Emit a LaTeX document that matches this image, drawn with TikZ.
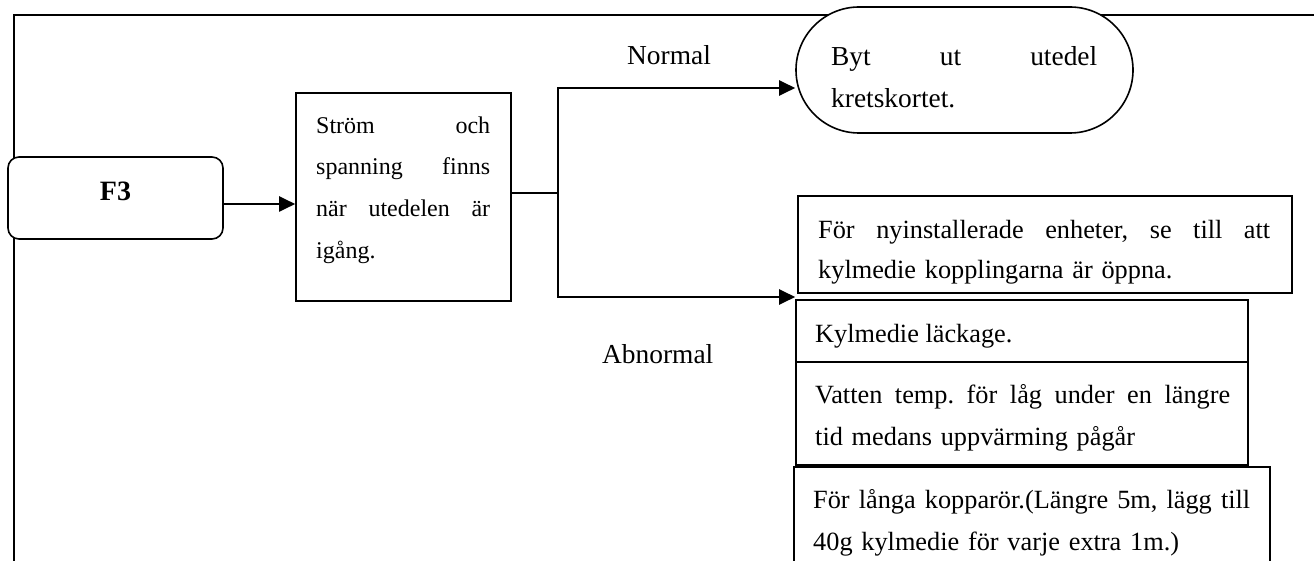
\documentclass[tikz,border=0pt]{standalone}
\usepackage{fontspec}
\setmainfont{Liberation Serif}
\usetikzlibrary{arrows.meta,shapes.misc}

% text sizes used in the chart
\newcommand\fbody{\fontsize{26.3pt}{42pt}\selectfont}
\newcommand\fboxa{\fontsize{26.3pt}{40pt}\selectfont}
\newcommand\fsmall{\fontsize{24pt}{41.7pt}\selectfont}
\newcommand\fbig{\fontsize{27.4pt}{42pt}\selectfont}
% fixed height for the first line of every text block
\newcommand\mytopstrut{\rule{0pt}{22pt}}
% a fully justified line of given width; words are separated by \hfill
\newcommand\jline[2]{\leavevmode\hbox to #1{#2}}

\begin{document}
\begin{tikzpicture}[x=1pt,y=-1pt,
  frame/.style={line width=2.2pt},
  boxline/.style={draw, line width=1.6pt, fill=white, inner sep=0pt},
  conn/.style={line width=2pt},
  arrowline/.style={conn, -{Triangle[length=16pt,width=15pt]}},
  txt/.style={inner sep=0pt, anchor=north west, align=left},
  label/.style={inner sep=0pt, anchor=base west, font=\fbig},
  ]
\useasboundingbox (0,0) rectangle (1314,561);
\clip (0,0) rectangle (1314,561);
\fill[white] (0,0) rectangle (1314,561);

% outer frame (left and top edges)
\draw[frame] (14,570) -- (14,15) -- (1320,15);

% start node
\node[boxline, rounded corners=11pt, minimum width=215pt, minimum height=82pt,
      font=\bfseries\fontsize{28pt}{28pt}\selectfont, text depth=13pt] (f3) at (115.5,198) {F3};

% check box
\node[boxline, minimum width=215pt, minimum height=208pt] (strom) at (403.5,197) {};
\node[txt, text width=174pt, font=\fsmall] (stromtext) at (316,111)
  {\mytopstrut\jline{174pt}{Ström\hfill och}\\
   \jline{174pt}{spanning\hfill finns}\\
   \jline{174pt}{när\hfill utedelen\hfill är}\\
   igång.};

% normal result
\node[boxline, rounded rectangle, minimum width=337pt, minimum height=126pt] (byt) at (964.5,70) {};
\node[txt, text width=266pt, font=\fbig] (byttext) at (831,43)
  {\mytopstrut\jline{266pt}{Byt\hfill ut\hfill utedel}\\kretskortet.};

% abnormal results
\node[boxline, minimum width=494pt, minimum height=97pt] (boxa) at (1045,244.5) {};
\node[txt, text width=452pt, font=\fboxa] (boxatext) at (818,216)
  {\mytopstrut\jline{452pt}{För\hfill nyinstallerade\hfill enheter,\hfill se\hfill till\hfill att}\\
   kylmedie kopplingarna är öppna.};

\node[boxline, minimum width=452pt, minimum height=62pt] (boxb) at (1022,331) {};
\node[txt, font=\fbody] (boxbtext) at (815,320) {\mytopstrut Kylmedie läckage.};

\node[boxline, minimum width=452pt, minimum height=103pt] (boxc) at (1022,413.5) {};
\node[txt, text width=415pt, font=\fbody] (boxctext) at (815,381)
  {\mytopstrut\jline{415pt}{Vatten\hfill temp.\hfill för\hfill låg\hfill under\hfill en\hfill längre}\\
   tid medans uppvärming pågår};

\node[boxline, minimum width=476pt, minimum height=153pt] (boxd) at (1032,543.5) {};
\node[txt, text width=437pt, font=\fbody] (boxdtext) at (813,486)
  {\mytopstrut\jline{437pt}{För\hfill långa\hfill kopparör.(Längre\hfill 5m,\hfill lägg\hfill till}\\
   40g kylmedie för varje extra 1m.)};

% branch labels
\node[label] (normal) at (627,65) {Normal};
\node[label] (abnormal) at (602,363) {Abnormal};

% connectors
\coordinate (a1) at (223,204);
\coordinate (j) at (558,193);
\coordinate (jt) at (558,88);
\coordinate (jb) at (558,297);
\draw[arrowline] (a1 -| f3.east) -- (a1 -| strom.west);
\draw[conn] (j -| strom.east) -- (j);
\draw[arrowline] (j) -- (jt) -- (jt -| byt.west);
\draw[arrowline] (j) -- (jb) -- (jb -| boxb.west);
\end{tikzpicture}
\end{document}
